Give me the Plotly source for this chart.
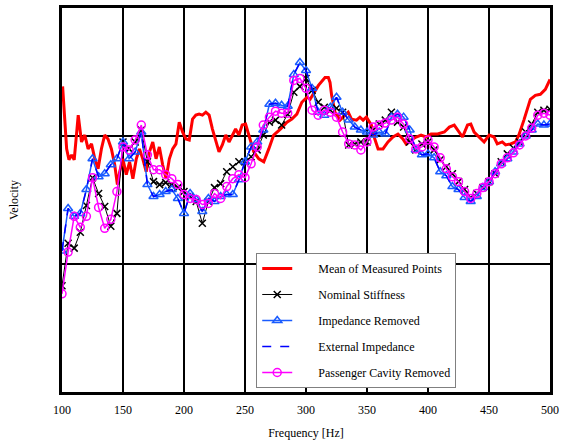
import plotly.graph_objects as go

# ---- data (arbitrary linear velocity units; 0..387 spans the plot) ----
red_freq = [100.5, 103.8, 105.7, 107.9, 110.0, 113.3, 116.0, 118.7, 121.4, 124.2, 126.9, 129.6,
            132.3, 135.0, 137.7, 140.5, 143.2, 145.4, 147.3, 149.9, 152.7, 155.4, 158.1, 160.9,
            163.5, 166.2, 169.0, 171.7, 174.4, 177.1, 179.8, 182.5, 185.3, 188.0, 190.7, 193.4,
            196.1, 198.8, 201.6, 204.3, 207.0, 209.7, 212.4, 215.1, 217.9, 220.6, 223.3, 226.0,
            228.7, 231.4, 234.2, 236.9, 239.6, 242.3, 245.0, 247.7, 250.5, 253.2, 257.2, 261.3,
            265.4, 269.5, 273.5, 279.0, 284.4, 288.4, 292.5, 296.6, 300.7, 303.4, 310.2, 315.6,
            318.3, 319.7, 321.0, 323.8, 327.9, 331.9, 334.6, 337.3, 341.4, 344.2, 346.8, 349.5,
            353.6, 356.4, 359.1, 363.1, 367.2, 371.3, 375.4, 379.4, 382.1, 386.2, 390.3, 394.3,
            398.4, 402.5, 407.9, 413.4, 417.5, 421.5, 424.2, 428.3, 432.4, 435.1, 437.8, 441.9,
            446.0, 450.1, 454.1, 456.8, 460.9, 463.6, 467.7, 471.7, 474.5, 478.6, 481.3, 483.9,
            488.0, 492.1, 496.2, 500.0]
red_val = [308, 245, 234, 239, 234, 279, 252, 259, 245, 250, 235, 225,
           245, 259, 255, 245, 229, 209, 222, 235, 219, 232, 215, 235,
           245, 235, 222, 242, 252, 235, 247, 229, 215, 235, 245, 250,
           272, 262, 255, 254, 275, 279, 280, 279, 282, 279, 265, 254,
           242, 249, 259, 252, 259, 265, 259, 269, 270, 259, 242, 235,
           232, 245, 259, 265, 272, 275, 280, 292, 297, 295, 309, 317,
           317, 312, 299, 282, 274, 279, 282, 275, 274, 277, 274, 277,
           269, 255, 245, 245, 252, 257, 260, 255, 250, 254, 257, 259,
           257, 260, 260, 262, 267, 269, 264, 257, 269, 270, 262, 257,
           252, 259, 257, 250, 252, 249, 250, 252, 259, 274, 285, 295,
           299, 300, 305, 315]

model_freq = [100, 105, 110, 115, 120, 125, 130, 135, 140, 145, 150, 155, 160, 165, 170, 175,
              180, 185, 190, 195, 200, 205, 210, 215, 220, 225, 230, 235, 240, 245, 250, 255,
              260, 265, 270, 275, 280, 285, 290, 295, 300, 305, 310, 315, 320, 325, 330, 335,
              340, 345, 350, 355, 360, 365, 370, 375, 380, 385, 390, 395, 400, 405, 410, 415,
              420, 425, 430, 435, 440, 445, 450, 455, 460, 465, 470, 475, 480, 485, 490, 495, 500]

nominal = [107, 150, 145, 161, 188, 216, 200, 187, 167, 180, 252, 245, 252, 264, 232, 212,
           209, 211, 209, 206, 202, 197, 192, 170, 192, 206, 210, 222, 227, 232, 232, 237,
           244, 259, 272, 274, 269, 280, 302, 308, 316, 304, 292, 287, 284, 286, 282, 249,
           250, 252, 252, 264, 270, 274, 282, 272, 267, 252, 244, 250, 252, 244, 234, 227,
           220, 212, 204, 196, 200, 206, 212, 220, 232, 240, 246, 252, 262, 270, 282, 284, 285]

impedance = [142, 185, 177, 180, 204, 235, 217, 220, 229, 235, 252, 235, 242, 262, 209, 197,
             199, 202, 204, 195, 180, 200, 194, 182, 195, 192, 197, 199, 199, 214, 232, 247,
             252, 264, 290, 291, 289, 288, 320, 332, 324, 306, 282, 279, 287, 297, 282, 274,
             267, 264, 262, 259, 262, 260, 277, 280, 277, 264, 244, 239, 240, 236, 222, 218,
             207, 204, 196, 192, 197, 206, 212, 222, 230, 235, 242, 250, 258, 264, 270, 269, 270]

external = [142, 185, 177, 180, 204, 235, 217, 220, 229, 235, 252, 235, 242, 262, 209, 197,
            199, 202, 204, 195, 180, 200, 194, 182, 195, 192, 197, 199, 199, 214, 232, 247,
            252, 264, 290, 291, 289, 288, 320, 332, 324, 306, 282, 279, 287, 297, 282, 274,
            267, 264, 262, 259, 262, 260, 277, 280, 277, 264, 244, 239, 240, 236, 222, 218,
            207, 204, 196, 192, 197, 206, 212, 222, 230, 235, 242, 250, 258, 264, 270, 269, 270]

cavity = [99, 141, 177, 166, 177, 216, 186, 165, 174, 202, 247, 244, 254, 269, 239, 224,
          224, 219, 215, 209, 199, 195, 194, 189, 190, 200, 195, 207, 215, 219, 216, 230,
          247, 269, 277, 283, 281, 281, 314, 316, 306, 284, 279, 284, 282, 277, 262, 250,
          249, 244, 252, 267, 269, 271, 274, 277, 270, 255, 245, 247, 254, 247, 236, 225,
          217, 212, 202, 195, 200, 206, 212, 220, 230, 236, 241, 249, 258, 266, 279, 281, 279]

x_ticks = [100, 150, 200, 250, 300, 350, 400, 450, 500]
y_grid = [129, 258]

NB = "\u00a0" * 7
serif = "Liberation Serif, Times New Roman, serif"

fig = go.Figure()
fig.add_trace(go.Scatter(x=red_freq, y=red_val, mode="lines", name=NB + "Mean of Measured Points",
                         line=dict(color="#ff0000", width=3), legendgroup="a"))
fig.add_trace(go.Scatter(x=model_freq, y=nominal, mode="lines+markers", name=NB + "Nominal Stiffness",
                         line=dict(color="#000000", width=1),
                         marker=dict(symbol="x-thin-open", size=7, color="#000000",
                                     line=dict(width=1.5, color="#000000")), legendgroup="b"))
fig.add_trace(go.Scatter(x=model_freq, y=impedance, mode="lines+markers", name=NB + "Impedance Removed",
                         line=dict(color="#1a5cff", width=1.5),
                         marker=dict(symbol="triangle-up-open", size=8, color="#1a5cff",
                                     line=dict(width=1.5, color="#1a5cff")), legendgroup="c"))
fig.add_trace(go.Scatter(x=model_freq, y=external, mode="lines", name=NB + "External Impedance",
                         line=dict(color="#0000ff", width=1.5, dash="dash"), legendgroup="d"))
fig.add_trace(go.Scatter(x=model_freq, y=cavity, mode="lines+markers", name=NB + "Passenger Cavity Removed",
                         line=dict(color="#ff00ff", width=1.5),
                         marker=dict(symbol="circle-open", size=8, color="#ff00ff",
                                     line=dict(width=1.5, color="#ff00ff")), legendgroup="e"))

fig.update_layout(
    width=564, height=446,
    margin=dict(l=62, r=10, t=5, b=54),
    paper_bgcolor="white", plot_bgcolor="white",
    font=dict(family=serif, size=12, color="black"),
    showlegend=True,
    legend=dict(x=0.398, y=0.362, xanchor="left", yanchor="top",
                bgcolor="white", bordercolor="#808080", borderwidth=1,
                font=dict(family=serif, size=12, color="black"),
                tracegroupgap=7, itemwidth=30),
    xaxis=dict(range=[100, 500], tickvals=x_ticks, ticktext=[str(v) for v in x_ticks],
               showgrid=True, gridcolor="black", gridwidth=2,
               showline=True, linecolor="black", linewidth=3, mirror=True,
               ticks="inside", ticklen=4, tickwidth=2, tickcolor="black",
               ticklabelstandoff=5,
               zeroline=False,
               title=dict(text="Frequency [Hz]", font=dict(family=serif, size=12), standoff=13)),
    yaxis=dict(range=[0, 387], tickvals=y_grid, showticklabels=False,
               showgrid=True, gridcolor="black", gridwidth=2,
               showline=True, linecolor="black", linewidth=3, mirror=True,
               ticks="", zeroline=False,
               title=dict(text="Velocity", font=dict(family=serif, size=12), standoff=38)),
)

fig.write_html("out.html")
